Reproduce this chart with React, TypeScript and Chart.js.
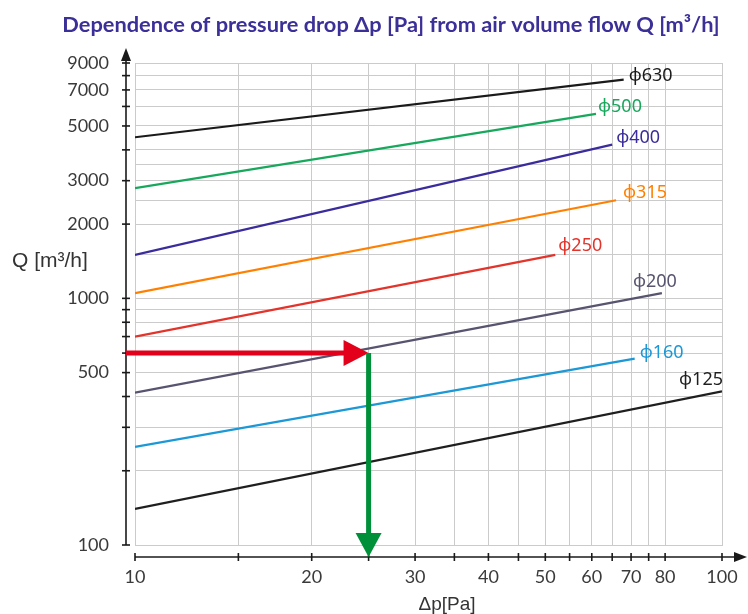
import { useEffect, useRef } from 'react';
import { Chart, registerables } from 'chart.js';

Chart.register(...registerables);

// ---- data ----
const diameterLabels = ['ϕ630', 'ϕ500', 'ϕ400', 'ϕ315', 'ϕ250', 'ϕ200', 'ϕ160', 'ϕ125'];
const dpStart = [10, 10, 10, 10, 10, 10, 10, 10];
const dpEnd = [68, 61, 65, 66, 52, 79, 71, 100];
const qStart = [4500, 2800, 1500, 1050, 700, 415, 250, 140];
const qEnd = [7700, 5600, 4200, 2500, 1500, 1050, 570, 420];

const xTickValues = [10, 15, 20, 25, 30, 35, 40, 45, 50, 55, 60, 65, 70, 75, 80, 100];
const xLabelValues = [10, 20, 30, 40, 50, 60, 70, 80, 100];
const yTickValues = [100, 200, 300, 400, 500, 600, 700, 800, 900, 1000, 2000, 3000, 4000, 5000, 6000, 7000, 8000, 9000];
const yExtraGridValues = [1500, 2500, 3500];
const yLabelValues = [100, 500, 1000, 2000, 3000, 5000, 7000, 9000];

const arrowDp = 25;
const arrowQ = 600;

// ---- styles ----
const lineColors = ['#1a1a1a', '#17a85c', '#3a2c9c', '#ff8000', '#e3342b', '#58536f', '#1b98d5', '#1f1f1f'];
// label offset from the line end: [dx, dy, align]
const labelOffsets: [number, number, CanvasTextAlign][] = [
  [5, -4, 'left'],
  [2, -7, 'left'],
  [4, -7, 'left'],
  [7, -7, 'left'],
  [3, -9, 'left'],
  [15, -11, 'right'],
  [5, -6, 'left'],
  [1, -11, 'right'],
];
const tickFont = { family: 'Lato, "Open Sans", sans-serif', size: 18 };
const tickColor = '#3a3a3a';
const gridColor = '#cbcbcb';

const decorPlugin = {
  id: 'decor',
  afterDatasetsDraw(chart: any) {
    const { ctx, chartArea: ca, scales } = chart;
    const x = scales.x;
    const y = scales.y;
    ctx.save();

    // axes lines
    const axX = ca.left - 9;
    const axY = ca.bottom + 12;
    ctx.strokeStyle = '#1a1a1a';
    ctx.fillStyle = '#1a1a1a';
    ctx.lineWidth = 1.6;
    ctx.beginPath();
    ctx.moveTo(axX, y.getPixelForValue(yTickValues[0]));
    ctx.lineTo(axX, ca.top - 6);
    ctx.stroke();
    ctx.beginPath();
    ctx.moveTo(axX, ca.top - 15);
    ctx.lineTo(axX - 5, ca.top - 2);
    ctx.lineTo(axX + 5, ca.top - 2);
    ctx.closePath();
    ctx.fill();
    yTickValues.forEach((v) => {
      const p = y.getPixelForValue(v);
      ctx.beginPath();
      ctx.moveTo(axX - 4, p);
      ctx.lineTo(axX + 4, p);
      ctx.stroke();
    });

    ctx.beginPath();
    ctx.moveTo(ca.left, axY);
    ctx.lineTo(ca.right + 14, axY);
    ctx.stroke();
    ctx.beginPath();
    ctx.moveTo(ca.right + 25, axY);
    ctx.lineTo(ca.right + 12, axY - 5);
    ctx.lineTo(ca.right + 12, axY + 5);
    ctx.closePath();
    ctx.fill();
    xTickValues.forEach((v) => {
      const p = x.getPixelForValue(v);
      ctx.beginPath();
      ctx.moveTo(p, axY - 4);
      ctx.lineTo(p, axY + 4);
      ctx.stroke();
    });

    // diameter labels
    ctx.font = '18px "Noto Sans", "DejaVu Sans", sans-serif';
    ctx.textBaseline = 'middle';
    chart.data.datasets.forEach((ds: any, i: number) => {
      if (!ds.isDiameter) return;
      const meta = chart.getDatasetMeta(i);
      const last = meta.data[meta.data.length - 1];
      const [dx, dy, align] = labelOffsets[i];
      ctx.fillStyle = lineColors[i];
      ctx.textAlign = align;
      ctx.fillText(diameterLabels[i], last.x + dx, last.y + dy);
    });

    // arrows
    const px = x.getPixelForValue(arrowDp);
    const py = y.getPixelForValue(arrowQ);
    // red horizontal
    ctx.strokeStyle = '#e2001a';
    ctx.fillStyle = '#e2001a';
    ctx.lineWidth = 5;
    ctx.beginPath();
    ctx.moveTo(axX, py);
    ctx.lineTo(px - 20, py);
    ctx.stroke();
    ctx.beginPath();
    ctx.moveTo(px, py);
    ctx.lineTo(px - 25, py - 13);
    ctx.lineTo(px - 25, py + 13);
    ctx.closePath();
    ctx.fill();
    // green vertical
    ctx.strokeStyle = '#00903a';
    ctx.fillStyle = '#00903a';
    ctx.lineWidth = 5;
    ctx.beginPath();
    ctx.moveTo(px, py);
    ctx.lineTo(px, axY - 20);
    ctx.stroke();
    ctx.beginPath();
    ctx.moveTo(px, axY);
    ctx.lineTo(px - 13, axY - 24);
    ctx.lineTo(px + 13, axY - 24);
    ctx.closePath();
    ctx.fill();

    // titles
    ctx.fillStyle = '#3b2f98';
    ctx.font = 'bold 21.8px Lato, "Open Sans", sans-serif';
    ctx.textAlign = 'center';
    ctx.textBaseline = 'alphabetic';
    ctx.fillText('Dependence of pressure drop Δp [Pa] from air volume flow Q [m³/h]', 391, 32);

    // y axis title sits midway between the 1000 and 2000 labels
    const qMid = (y.getPixelForValue(1000) + y.getPixelForValue(2000)) / 2;
    ctx.fillStyle = '#333333';
    ctx.font = '21px "Liberation Sans", Arial, sans-serif';
    ctx.textAlign = 'left';
    ctx.textBaseline = 'middle';
    ctx.fillText('Q [m³/h]', ca.left - 123, qMid);
    ctx.font = '19px "Liberation Sans", Arial, sans-serif';
    ctx.textAlign = 'center';
    ctx.textBaseline = 'alphabetic';
    ctx.fillText('Δp[Pa]', ca.left + 312, ca.bottom + 65);

    ctx.restore();
  },
};

export default function App() {
  const canvasRef = useRef<HTMLCanvasElement | null>(null);

  useEffect(() => {
    if (!canvasRef.current) return;
    const datasets: any[] = diameterLabels.map((label, i) => ({
      label,
      isDiameter: true,
      data: [
        { x: dpStart[i], y: qStart[i] },
        { x: dpEnd[i], y: qEnd[i] },
      ],
      borderColor: lineColors[i],
      borderWidth: 2.2,
      pointRadius: 0,
      fill: false,
      tension: 0,
    }));

    const chart = new Chart(canvasRef.current, {
      type: 'line',
      data: { datasets },
      options: {
        animation: false,
        responsive: true,
        maintainAspectRatio: false,
        layout: { padding: { top: 63, right: 26, left: 0, bottom: 0 } },
        plugins: {
          legend: { display: false },
          tooltip: { enabled: false },
          title: { display: false },
        },
        scales: {
          x: {
            type: 'logarithmic',
            min: 10,
            max: 100,
            afterBuildTicks: (s: any) => {
              s.ticks = xTickValues.map((v) => ({ value: v }));
            },
            afterFit: (s: any) => {
              s.height = 69;
              s.paddingLeft = 0;
              s.paddingRight = 0;
            },
            ticks: {
              autoSkip: false,
              maxRotation: 0,
              padding: 21,
              font: tickFont,
              color: tickColor,
              callback: (v: any) => (xLabelValues.includes(Number(v)) ? String(v) : ''),
            },
            grid: { color: gridColor, drawTicks: false, lineWidth: 1 },
            border: { display: true, color: gridColor },
          },
          y: {
            type: 'logarithmic',
            min: 100,
            max: 9000,
            afterBuildTicks: (s: any) => {
              s.ticks = [...yTickValues, ...yExtraGridValues]
                .sort((a, b) => a - b)
                .map((v) => ({ value: v }));
            },
            afterFit: (s: any) => {
              s.width = 135;
              s.paddingTop = 0;
              s.paddingBottom = 0;
            },
            ticks: {
              autoSkip: false,
              padding: 26,
              font: tickFont,
              color: tickColor,
              callback: (v: any) => (yLabelValues.includes(Number(v)) ? String(v) : ''),
            },
            grid: { color: gridColor, drawTicks: false, lineWidth: 1 },
            border: { display: true, color: gridColor },
          },
        },
      } as any,
      plugins: [decorPlugin],
    });
    return () => chart.destroy();
  }, []);

  return (
    <div style={{ position: 'fixed', left: 0, top: 0, width: 748, height: 614, background: '#fff' }}>
      <canvas ref={canvasRef} />
    </div>
  );
}
